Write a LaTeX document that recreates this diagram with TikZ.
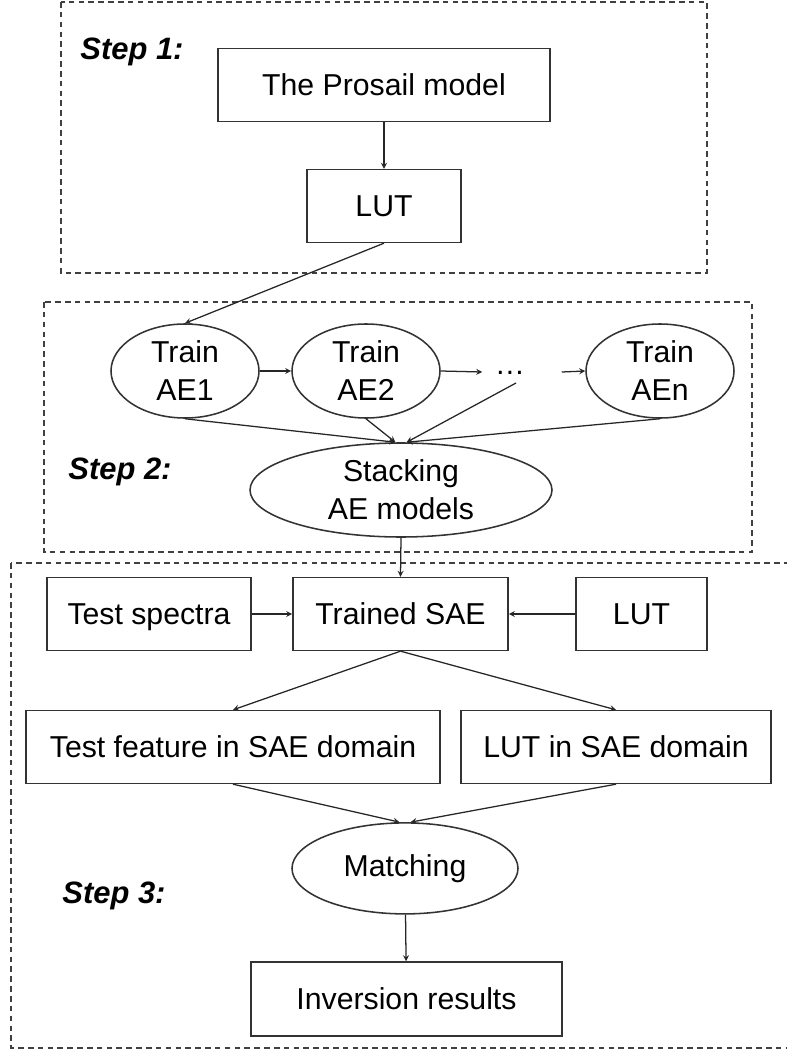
\documentclass[tikz,border=0pt]{standalone}
\usepackage{fontspec}
\setmainfont{Liberation Sans}
\usetikzlibrary{shapes.geometric}
\begin{document}
\begin{tikzpicture}[>=stealth, line width=0.9pt, draw=black!85,
  box/.style={draw=black!80, line width=1.1pt, minimum height=1.82cm, inner sep=0pt,
    text height=15.5pt, text depth=0pt, font=\fontsize{21.5}{27}\selectfont},
  oval/.style={draw=black!80, line width=1.1pt, ellipse, inner sep=0pt, align=center,
    font=\fontsize{21.5}{27}\selectfont},
  stepbox/.style={draw=black!75, dash pattern=on 4pt off 3pt, line width=0.9pt},
  steplabel/.style={font=\fontsize{22}{26}\selectfont\bfseries\itshape}]
  \useasboundingbox (0,0) rectangle (19.65,-26.25);
  % dashed frames of the three steps
  \draw[stepbox] (1.525,-0.05) rectangle (17.675,-6.825);
  \draw[stepbox] (1.1,-7.55) rectangle (18.8,-13.8);
  \draw[stepbox] (0.275,-14.075) rectangle (19.9,-26.2);
  \node[steplabel] (s1) at (3.3,-1.3) {Step 1:};
  \node[steplabel] (s2) at (3.0,-11.8) {Step 2:};
  \node[steplabel] (s3) at (2.85,-22.4) {Step 3:};
  % step 1
  \node[box, minimum width=8.3cm] (prosail) at (9.6,-2.125) {The Prosail model};
  \node[box, minimum width=3.85cm] (lut1) at (9.6,-5.15) {LUT};
  \draw[->] (prosail) -- (lut1);
  % step 2
  \node[oval, minimum width=3.7cm, minimum height=2.35cm] (ae1) at (4.625,-9.275) {Train\\AE1};
  \node[oval, minimum width=3.7cm, minimum height=2.35cm] (ae2) at (9.15,-9.275) {Train\\AE2};
  \node[font=\fontsize{21.5}{27}\selectfont, inner xsep=0.3cm, inner ysep=0pt,
    text height=4pt, text depth=0pt] (dots) at (12.75,-9.3) {…};
  \node[oval, minimum width=3.7cm, minimum height=2.35cm] (aen) at (16.5,-9.275) {Train\\AEn};
  \node[oval, minimum width=7.55cm, minimum height=2.35cm] (stacking) at (10.025,-12.25) {Stacking\\AE models};
  \coordinate (dtail) at (12.9,-9.575);
  \draw[->] (lut1.south) -- (ae1.north);
  \draw[->] (ae1) -- (ae2);
  \draw[->] (ae2.east) -- (dots.west);
  \draw[->] ([xshift=0.6cm]dots.east) -- (aen.west);
  \draw[->] (ae1.south) -- ([xshift=-4pt]stacking.north);
  \draw[->] (ae2.south) -- ([xshift=-4pt]stacking.north);
  \draw[->] (dtail) -- ([xshift=4pt]stacking.north);
  \draw[->] (aen.south) -- ([xshift=4pt]stacking.north);
  % step 3
  \node[box, minimum width=5.1cm] (spectra) at (3.725,-15.35) {Test spectra};
  \node[box, minimum width=5.375cm] (trained) at (10.0125,-15.35) {Trained SAE};
  \node[box, minimum width=3.275cm] (lut2) at (16.0375,-15.35) {LUT};
  \node[box, minimum width=10.35cm] (feature) at (5.825,-18.675) {Test feature in SAE domain};
  \node[box, minimum width=7.75cm] (lutsae) at (15.4,-18.675) {LUT in SAE domain};
  \node[oval, minimum width=5.65cm, minimum height=2.275cm] (matching) at (10.125,-21.71) {Matching};
  \node[box, minimum width=7.775cm, minimum height=1.85cm] (inversion) at (10.1625,-24.975) {Inversion results};
  \draw[->] (stacking.south) -- (trained.north);
  \draw[->] (spectra) -- (trained);
  \draw[->] (lut2) -- (trained);
  \draw[->] (trained.south) -- (feature.north);
  \draw[->] (trained.south) -- (lutsae.north);
  \draw[->] (feature.south) -- ([xshift=-4pt]matching.north);
  \draw[->] (lutsae.south) -- ([xshift=4pt]matching.north);
  \draw[->] (matching) -- (inversion);
\end{tikzpicture}
\end{document}
